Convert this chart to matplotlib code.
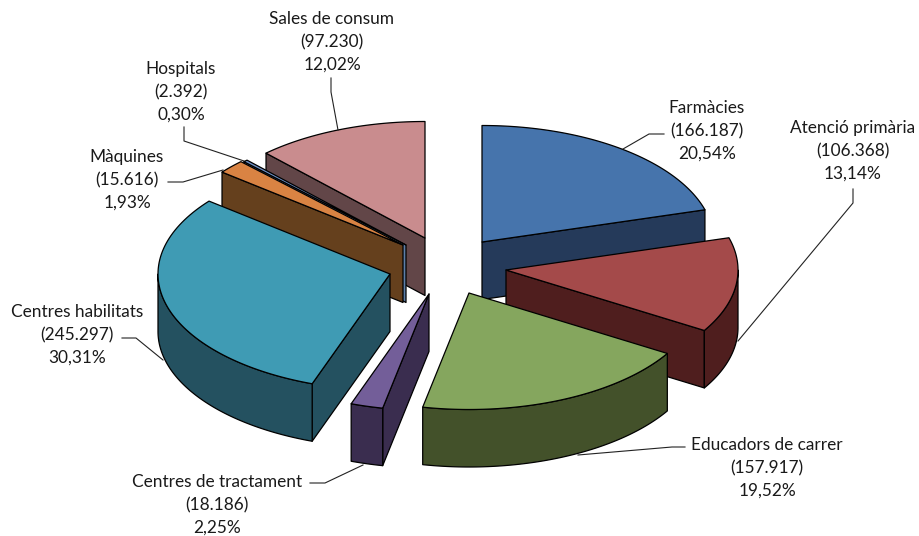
import numpy as np
import matplotlib
matplotlib.use("Agg")
import matplotlib.pyplot as plt
from matplotlib.patches import Polygon

# Dades
categories = ["Farmàcies", "Atenció primària", "Educadors de carrer", "Centres de tractament",
              "Centres habilitats", "Màquines", "Hospitals", "Sales de consum"]
valors = [166187, 106368, 157917, 18186, 245297, 15616, 2392, 97230]

# Estil de cada porció: color de dalt i color de costat
colors_dalt = ["#4674AC", "#A44A4A", "#85A65E", "#735E99", "#3F9BB4", "#D98343", "#7093C8", "#C98C8E"]
colors_costat = ["#253A5A", "#4F1E1E", "#43512A", "#3A2D4F", "#245160", "#65401D", "#5D7FA8", "#624648"]

# Vèrtex de cada porció desplaçada (píxels)
vertexs = [(482, 242), (506, 270), (469, 293), (429, 294), (390, 274), (403, 245), (406, 245), (425, 238)]
# Posició de les etiquetes i línies guia
pos_text = [(707, 131), (853, 151), (767, 468), (217, 505), (77, 335), (127, 180), (181, 92), (332, 42)]
guies = [[(664, 134), (649, 134), (623, 149)],
         [(853, 189), (853, 203), (738, 341)],
         [(685, 447), (672, 447), (578, 455)],
         [(310, 483), (325, 483), (363, 465)],
         [(122, 338), (136, 338), (163, 360)],
         [(168, 182), (183, 182), (223, 170)],
         [(184, 127), (184, 141), (244, 161)],
         [(331, 78), (331, 92), (338, 130)]]
rx, ry, alt = 232, 116.5, 57.5
ordre = [7, 6, 5, 0, 1, 4, 3, 2]  # del fons cap al davant

plt.rcParams["font.family"] = ["Lato", "DejaVu Sans"]
fig = plt.figure(figsize=(9.2, 5.36), dpi=100)
ax = fig.add_axes([0, 0, 1, 1])
ax.set_xlim(0, 920)
ax.set_ylim(536, 0)
ax.axis("off")

total = sum(valors)
limits = np.concatenate([[0], np.cumsum(valors)]) / total * 360


def punts(v, a1, a2, dy=0):
    t = np.radians(np.linspace(a1, a2, 80))
    return np.column_stack([v[0] + rx * np.sin(t), v[1] - ry * np.cos(t) + dy])


def cara(pts, color):
    ax.add_patch(Polygon(pts, closed=True, facecolor=color, edgecolor="black", lw=0.9, joinstyle="round"))


for i in ordre:
    v = vertexs[i]
    a1, a2 = limits[i], limits[i + 1]
    # cares radials visibles
    if np.sin(np.radians(a1)) < 0:
        vora = punts(v, a1, a1)[0]
        cara([v, vora, vora + [0, alt], (v[0], v[1] + alt)], colors_costat[i])
    if np.sin(np.radians(a2)) > 0:
        vora = punts(v, a2, a2)[0]
        cara([v, vora, vora + [0, alt], (v[0], v[1] + alt)], colors_costat[i])
    # paret exterior, només la part de davant
    b1, b2 = max(a1, 90), min(a2, 270)
    if b2 > b1:
        arc = punts(v, b1, b2)
        cara(np.vstack([arc, punts(v, b2, b1, alt)]), colors_costat[i])
    cara(np.vstack([[v], punts(v, a1, a2)]), colors_dalt[i])

for nom, val, p, g in zip(categories, valors, pos_text, guies):
    g = np.array(g)
    ax.plot(g[:, 0], g[:, 1], color="#222222", lw=0.8)
    pct = f"{val / total * 100:.2f}".replace(".", ",")
    xifra = f"{val:,}".replace(",", ".")
    ax.text(p[0], p[1], f"{nom}\n({xifra})\n{pct}%", ha="center", va="center",
            fontsize=12.4, color="#1a1a1a", linespacing=1.5)

fig.savefig("out.png", dpi=100)
